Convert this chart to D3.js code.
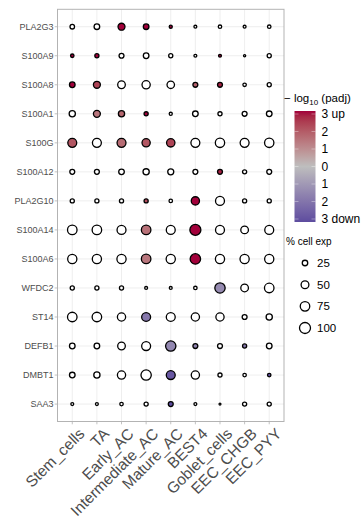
<!DOCTYPE html>
<html>
<head>
<meta charset="utf-8">
<script src="https://cdn.jsdelivr.net/npm/d3@7"></script>
<style>
  body { margin: 0; background: #fff; }
  svg { display: block; font-family: "Liberation Sans", Arial, sans-serif; }
</style>
</head>
<body>
<svg id="chart" width="364" height="523"></svg>
<script>
// cell types (x) and genes (y, top to bottom)
var cellTypes = ["Stem_cells", "TA", "Early_AC", "Intermediate_AC", "Mature_AC", "BEST4", "Goblet_cells", "EEC_CHGB", "EEC_PYY"];
var genes = ["PLA2G3", "S100A9", "S100A8", "S100A1", "S100G", "S100A12", "PLA2G10", "S100A14", "S100A6", "WFDC2", "ST14", "DEFB1", "DMBT1", "SAA3"];

// % of cells expressing, one row per gene
var pctExp = [
    [17, 26, 40, 26, 8, 7, 10, 7, 10],
    [10, 14, 20, 26, 14, 7, 7, 4, 14],
    [26, 40, 48, 56, 46, 20, 20, 10, 14],
    [32, 40, 32, 14, 8, 26, 14, 20, 26],
    [66, 66, 66, 56, 58, 66, 72, 66, 72],
    [20, 20, 26, 32, 30, 20, 20, 14, 20],
    [14, 14, 14, 14, 10, 56, 66, 14, 14],
    [75, 75, 66, 75, 66, 100, 66, 48, 66],
    [70, 70, 70, 75, 70, 90, 70, 70, 70],
    [14, 14, 14, 7, 7, 10, 88, 48, 75],
    [75, 75, 56, 66, 66, 56, 56, 20, 32],
    [26, 26, 48, 66, 88, 20, 20, 14, 26],
    [26, 32, 56, 88, 66, 56, 14, 10, 10],
    [7, 7, 10, 14, 20, 7, 3, 14, 14]
];

// signed -log10(padj), capped at 3; null = not significant (white)
var logP = [
    [null, null, 3, 3, 3, null, null, null, null],
    [3, 3, null, null, null, null, 3, null, null],
    [3, 2.3, null, null, null, 1.8, 2.8, null, null],
    [null, 1.4, 1.7, 3, null, null, null, null, null],
    [2, null, 1.6, 2, 2.3, null, null, null, null],
    [null, null, null, null, null, null, 2.8, null, null],
    [null, null, null, 2.2, null, 3, null, null, null],
    [null, null, null, 1.5, null, 3, null, null, null],
    [null, null, null, 1.4, null, 3, null, null, null],
    [null, null, null, null, null, null, -1.3, null, null],
    [null, null, null, -1.8, null, null, null, null, null],
    [null, null, null, null, -1.4, -1.5, null, -1.8, null],
    [null, null, null, null, -2.7, null, null, null, -2.8],
    [null, null, null, null, -3, null, null, null, null]
];

var colorTicks = [3, 2, 1, 0, -1, -2, -3];
var colorTickLabels = ["3 up", "2", "1", "0", "1", "2", "3 down"];
var sizeBreaks = [25, 50, 75, 100];

var svg = d3.select("#chart");
var panel = {left: 57.5, right: 284, top: 9.3, bottom: 421.5};

var x = d3.scalePoint().domain(cellTypes).range([panel.left, panel.right]).padding(0.6);
var y = d3.scalePoint().domain(genes).range([panel.top, panel.bottom]).padding(0.6);
var r = d3.scaleSqrt().domain([0, 100]).range([0, 5.5]);
var color = d3.scaleLinear().domain([-3, 0, 3])
    .range(["#5D4C9F", "#BEBEBE", "#A2003A"])
    .interpolate(d3.interpolateLab);

// grid
var grid = svg.append("g");
grid.selectAll("line.v").data(cellTypes).enter().append("line")
    .attr("x1", d => x(d)).attr("x2", d => x(d))
    .attr("y1", panel.top).attr("y2", panel.bottom)
    .attr("stroke", "#E3E3E3").attr("stroke-width", 0.6);
grid.selectAll("line.h").data(genes).enter().append("line")
    .attr("y1", d => y(d)).attr("y2", d => y(d))
    .attr("x1", panel.left).attr("x2", panel.right)
    .attr("stroke", "#E3E3E3").attr("stroke-width", 0.6);

// points
var points = [];
genes.forEach(function (g, i) {
    cellTypes.forEach(function (c, j) {
        points.push({gene: g, cell: c, pct: pctExp[i][j], val: logP[i][j]});
    });
});

svg.append("g").selectAll("circle").data(points).enter().append("circle")
    .attr("cx", d => x(d.cell))
    .attr("cy", d => y(d.gene))
    .attr("r", d => r(d.pct))
    .attr("fill", d => d.val == null ? "#fff" : color(d.val))
    .attr("stroke", "#000")
    .attr("stroke-width", 1.3);

// panel border
svg.append("rect")
    .attr("x", panel.left).attr("y", panel.top)
    .attr("width", panel.right - panel.left).attr("height", panel.bottom - panel.top)
    .attr("fill", "none").attr("stroke", "#B3B3B3").attr("stroke-width", 1);

// y axis
var yAxis = svg.append("g");
yAxis.selectAll("line").data(genes).enter().append("line")
    .attr("x1", panel.left - 2.8).attr("x2", panel.left)
    .attr("y1", d => y(d)).attr("y2", d => y(d))
    .attr("stroke", "#B3B3B3").attr("stroke-width", 0.8);
yAxis.selectAll("text").data(genes).enter().append("text")
    .attr("x", panel.left - 4).attr("y", d => y(d))
    .attr("dy", "0.35em")
    .attr("text-anchor", "end")
    .attr("font-size", 9)
    .attr("fill", "#4D4D4D")
    .text(d => d);

// x axis
var xAxis = svg.append("g");
xAxis.selectAll("line").data(cellTypes).enter().append("line")
    .attr("x1", d => x(d)).attr("x2", d => x(d))
    .attr("y1", panel.bottom).attr("y2", panel.bottom + 2.8)
    .attr("stroke", "#B3B3B3").attr("stroke-width", 0.8);
xAxis.selectAll("text").data(cellTypes).enter().append("text")
    .attr("transform", d => "translate(" + (x(d) + 5) + "," + (panel.bottom + 5) + ") rotate(-45)")
    .attr("dy", "0.75em")
    .attr("text-anchor", "end")
    .attr("font-size", 15.5)
    .attr("fill", "#4D4D4D")
    .text(d => d);

// colour legend
var legend = svg.append("g");
var title = legend.append("text").attr("x", 284).attr("y", 102).attr("font-size", 11.5).attr("fill", "#000");
title.append("tspan").text("\u2212 log");
title.append("tspan").attr("font-size", 8).attr("dy", 3).text("10");
title.append("tspan").attr("dy", -3).text(" (padj)");

var bar = {x: 294.5, y: 111, w: 21, h: 111};
var defs = svg.append("defs");
var grad = defs.append("linearGradient").attr("id", "cbar")
    .attr("x1", 0).attr("y1", 0).attr("x2", 0).attr("y2", 1);
d3.range(0, 1.0001, 0.05).forEach(function (t) {
    grad.append("stop").attr("offset", t).attr("stop-color", color(3 - 6 * t));
});
legend.append("rect").attr("x", bar.x).attr("y", bar.y).attr("width", bar.w).attr("height", bar.h)
    .attr("fill", "url(#cbar)");
var cy = d3.scaleLinear().domain([3, -3]).range([114, 219]);
colorTicks.forEach(function (v, i) {
    [bar.x, bar.x + bar.w - 4].forEach(function (tx) {
        legend.append("line").attr("x1", tx).attr("x2", tx + 4)
            .attr("y1", cy(v)).attr("y2", cy(v))
            .attr("stroke", "#fff").attr("stroke-opacity", 0.6).attr("stroke-width", 0.6);
    });
    legend.append("text").attr("x", 321.5).attr("y", cy(v)).attr("dy", "0.35em")
        .attr("font-size", 12).attr("fill", "#000").text(colorTickLabels[i]);
});

// size legend
legend.append("text").attr("x", 286).attr("y", 245).attr("font-size", 10).attr("fill", "#000").text("% cell exp");
var sy = d3.scalePoint().domain(sizeBreaks).range([263, 328]);
sizeBreaks.forEach(function (s) {
    legend.append("circle").attr("cx", 305).attr("cy", sy(s)).attr("r", r(s))
        .attr("fill", "#fff").attr("stroke", "#000").attr("stroke-width", 1.3);
    legend.append("text").attr("x", 317).attr("y", sy(s)).attr("dy", "0.35em")
        .attr("font-size", 11.5).attr("fill", "#000").text(s);
});
</script>
</body>
</html>
